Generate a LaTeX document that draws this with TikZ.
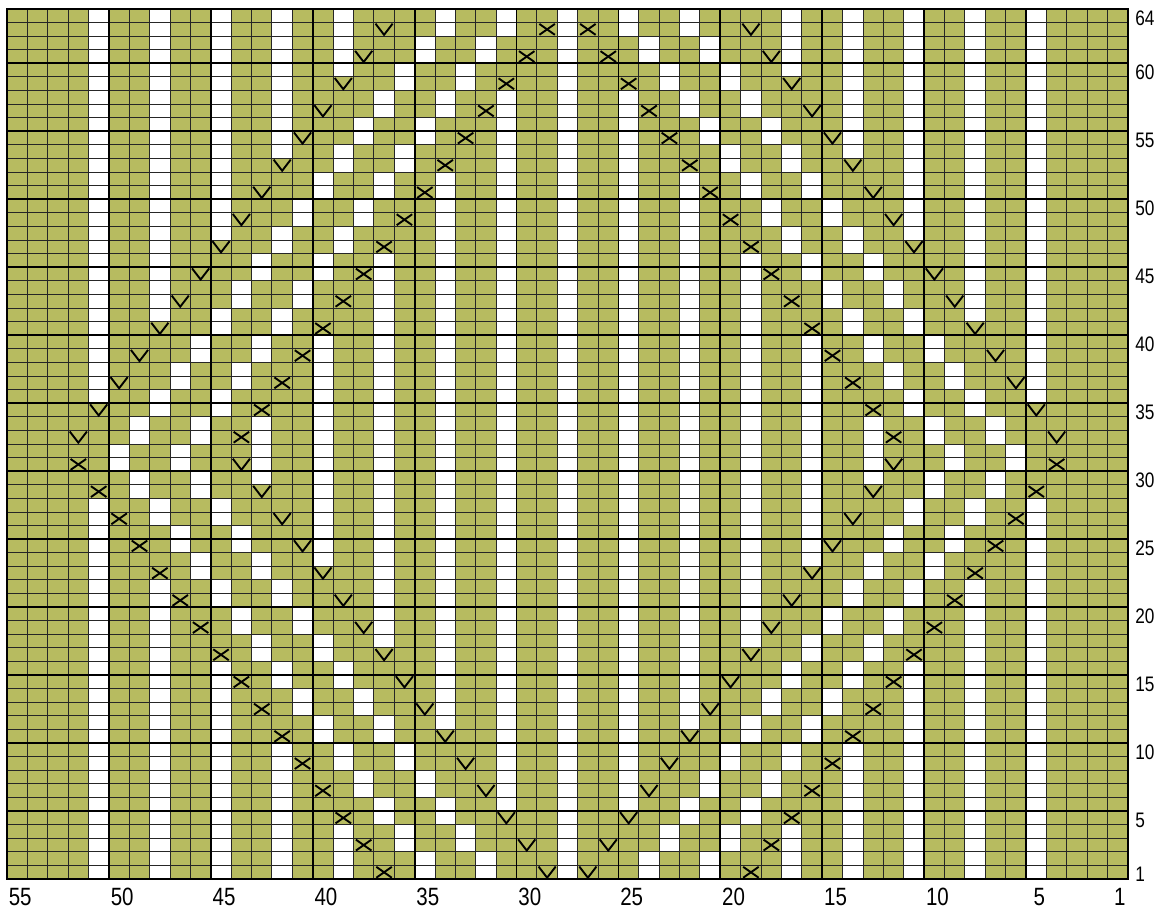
\documentclass[tikz,border=0pt]{standalone}
\usepackage{fontspec}
\setmainfont{Liberation Sans}
\newfontfamily\numfont[FakeStretch=0.82]{Liberation Sans}
\definecolor{knitgreen}{RGB}{183,187,96}

% white cells, stitch #1, rows #2 to #3, and the mirrored stitch
\newcommand\purlcol[3]{%
  \fill[purl] ({55-(#1)},{(#2)-1}) rectangle ({56-(#1)},{#3});
  \fill[purl] ({(#1)-1},{(#2)-1}) rectangle ({#1},{#3});
}
% twist symbols, stitch #1, row #2, and the mirrored stitch
\newcommand\twistV[2]{%
  \draw[twist] ({55-(#1)+0.08},{(#2)-0.08}) -- ({55.5-(#1)},{(#2)-0.9}) -- ({56-(#1)-0.08},{(#2)-0.08});
  \draw[twist] ({(#1)-0.92},{(#2)-0.08}) -- ({(#1)-0.5},{(#2)-0.9}) -- ({(#1)-0.08},{(#2)-0.08});
}
\newcommand\twistX[2]{%
  \draw[twist] ({55-(#1)+0.12},{(#2)-0.9}) -- ({56-(#1)-0.12},{(#2)-0.1});
  \draw[twist] ({55-(#1)+0.12},{(#2)-0.1}) -- ({56-(#1)-0.12},{(#2)-0.9});
  \draw[twist] ({(#1)-0.88},{(#2)-0.9}) -- ({(#1)-0.12},{(#2)-0.1});
  \draw[twist] ({(#1)-0.88},{(#2)-0.1}) -- ({(#1)-0.12},{(#2)-0.9});
}

\begin{document}
\begin{tikzpicture}[
    x=20.38pt,y=13.594pt,
    purl/.style={fill=white},
    twist/.style={draw=black, line width=1.9pt},
    gridline/.style={draw=black!85, line width=1pt},
    gridbold/.style={draw=black, line width=1.9pt},
    frame/.style={draw=black, line width=2.8pt},
    num/.style={font=\numfont\fontsize{25}{28}\selectfont, inner sep=0pt},
    rownum/.style={font=\numfont\fontsize{21}{24}\selectfont, inner sep=0pt, anchor=west}
]
    \useasboundingbox (-0.3435,-2.575) rectangle (56.963,64.662);

    % knit background
    \fill[knitgreen] (0,0) rectangle (55,64);

    % purl stitches
    \purlcol{28}{1}{64}
    \foreach \c in {39,42,...,51}{
        \purlcol{\c}{1}{2*\c-74}
        \purlcol{\c}{138-2*\c}{64}
    }
    \foreach \c in {31,34,...,43}{
        \purlcol{\c}{2*\c-56}{120-2*\c}
    }
    \foreach \k in {0,...,15}{
        \purlcol{35+\k}{2*\k+1}{2*\k+2}
        \purlcol{32+\k}{2*\k+1}{2*\k+2}
        \purlcol{46-\k}{33+2*\k}{34+2*\k}
        \purlcol{49-\k}{33+2*\k}{34+2*\k}
    }

    % grid
    \foreach \i in {1,...,54} \draw[gridline] (\i,0) -- (\i,64);
    \foreach \j in {1,...,63} \draw[gridline] (0,\j) -- (55,\j);
    \foreach \i in {5,10,...,50} \draw[gridbold] (\i,0) -- (\i,64);
    \foreach \j in {5,10,...,60} \draw[gridbold] (0,\j) -- (55,\j);
    \draw[frame] (0,0) rectangle (55,64);

    % twists
    \foreach \k in {0,...,15}{
        \twistX{37+\k}{2*\k+1}
        \twistV{29+\k}{2*\k+1}
        \twistV{52-\k}{33+2*\k}
        \twistX{44-\k}{33+2*\k}
    }

    % stitch numbers
    \foreach \n in {55,50,...,5}
        \node[num] (st\n) at ({55.65-\n},-1.3) {\n};
    \node[num] (st1) at (54.6,-1.3) {1};

    % row numbers
    \node[rownum] (row1) at (55.35,0.35) {1};
    \foreach \n in {5,10,...,60}
        \node[rownum] (row\n) at (55.35,{\n-0.65}) {\n};
    \node[rownum] (row64) at (55.35,63.35) {64};

\end{tikzpicture}
\end{document}
